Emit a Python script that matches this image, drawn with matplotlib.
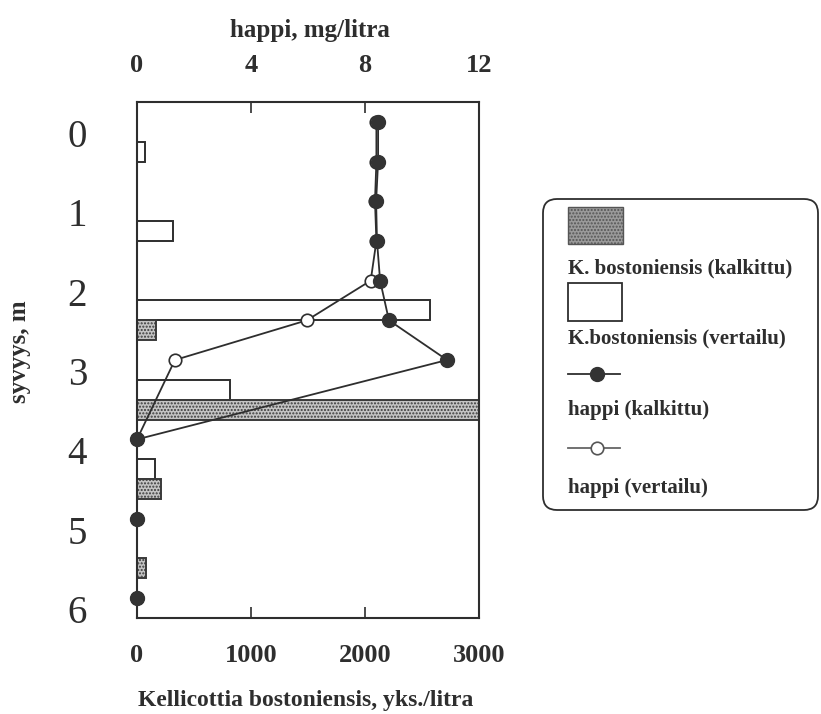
import matplotlib
matplotlib.use("Agg")
import matplotlib.pyplot as plt
import matplotlib.transforms as mtransforms
from matplotlib.patches import Rectangle, FancyBboxPatch
from matplotlib.lines import Line2D

plt.rcParams['font.family'] = ['Liberation Serif', 'DejaVu Serif']
plt.rcParams['font.weight'] = 'bold'
plt.rcParams['axes.labelweight'] = 'bold'
plt.rcParams['hatch.linewidth'] = 1.0

# depth bins (m) for the rotifer counts
bins = [0, 1, 2, 3, 4, 5]
kb_vertailu = [70, 316, 2570, 816, 158, 0]
kb_kalkittu = [0, 0, 167, 3000, 211, 79]

# oxygen profiles
happi_depth = [0, 0.5, 1, 1.5, 2, 2.5, 3, 4, 5, 6]
happi_kalkittu = [8.46, 8.46, 8.39, 8.42, 8.53, 8.84, 10.88, 0, 0, 0]
happi_vertailu = [8.4, 8.4, 8.35, 8.4, 8.2, 5.96, 1.33, 0, 0, 0]

ink = '#2e2e2e'

fig = plt.figure(figsize=(8.21, 7.14), dpi=100)
ax = fig.add_axes([137/821, 1-618/714, 342/821, 516/714])

# bars: vertailu in the upper quarter, kalkittu in the lower quarter of each bin
pos_v = [b + 0.375 for b in bins]
pos_k = [b + 0.625 for b in bins]
ax.barh(pos_v, kb_vertailu, height=0.25, color='white', edgecolor=ink, linewidth=1.4, zorder=2)
ax.barh(pos_k, kb_kalkittu, height=0.25, color='#c4c4c4', edgecolor='#3a3a3a',
        hatch='.....', linewidth=1.4, zorder=2)

ax.set_xlim(0, 3000)
ax.set_ylim(6.25, -0.25)
ax.set_xticks([0, 1000, 2000, 3000])
ax.set_yticks(range(7))
ax.tick_params(axis='x', direction='in', length=8, width=1.2, pad=19, labelsize=19,
               colors=ink, top=False)
ax.tick_params(axis='y', length=0, pad=36, labelsize=28, colors=ink)
shift = mtransforms.ScaledTranslation(0, -11/100, fig.dpi_scale_trans)
for lab in ax.get_yticklabels():
    lab.set_transform(lab.get_transform() + shift)
    lab.set_fontweight('normal')
for s in ax.spines.values():
    s.set_color(ink)
    s.set_linewidth(1.5)

ax.set_xlabel('Kellicottia bostoniensis, yks./litra', fontsize=17, color=ink)
ax.xaxis.set_label_coords(0.494, -0.139)
ax.set_ylabel('syvyys, m', fontsize=18, color=ink)
ax.yaxis.set_label_coords(-0.31, 0.5155)

# oxygen on the top axis
ax2 = ax.twiny()
ax2.set_xlim(0, 12)
ax2.set_xticks([0, 4, 8, 12])
ax2.tick_params(axis='x', direction='in', length=8, width=1.2, pad=18, labelsize=19, colors=ink)
for s in ax2.spines.values():
    s.set_visible(False)
ax2.plot(happi_vertailu, happi_depth, color=ink, lw=1.3, marker='o', ms=9,
         mfc='white', mec=ink, mew=1.2, clip_on=False, zorder=3)
ax2.plot(happi_kalkittu, happi_depth, color=ink, lw=1.3, marker='o', ms=10,
         mfc='#333333', mec='#333333', clip_on=False, zorder=4)
ax2.set_xlabel('happi, mg/litra', fontsize=18, color=ink)
ax2.xaxis.set_label_coords(0.506, 1.126)

# legend panel
lax = fig.add_axes([541/821, 1-512/714, 279/821, 315/714])
lax.set_xlim(0, 279)
lax.set_ylim(315, 0)
lax.axis('off')
lax.add_patch(FancyBboxPatch((2, 2), 275, 311, boxstyle='round,pad=0,rounding_size=14',
                             facecolor='white', edgecolor=ink, linewidth=1.3))
lax.add_patch(Rectangle((27, 10), 55, 37, facecolor='#9a9a9a', edgecolor='#555555',
                        hatch='.....', linewidth=1.0))
lax.text(27, 76, 'K. bostoniensis (kalkittu)', fontsize=15, color=ink, va='baseline')
lax.add_patch(Rectangle((27, 86), 54, 38, facecolor='white', edgecolor=ink, linewidth=1.3))
lax.text(27, 146, 'K.bostoniensis (vertailu)', fontsize=15, color=ink, va='baseline')
lax.add_line(Line2D([27, 79], [177, 177], color=ink, lw=1.3))
lax.add_line(Line2D([56], [177], marker='o', ms=10, mfc='#333333', mec='#333333'))
lax.text(27, 218, 'happi (kalkittu)', fontsize=15, color=ink, va='baseline')
lax.add_line(Line2D([27, 79], [251, 251], color='#666666', lw=1.3))
lax.add_line(Line2D([56], [251], marker='o', ms=9, mfc='white', mec='#555555', mew=1.2))
lax.text(27, 296, 'happi (vertailu)', fontsize=15, color=ink, va='baseline')

fig.savefig('out.png', dpi=100)
